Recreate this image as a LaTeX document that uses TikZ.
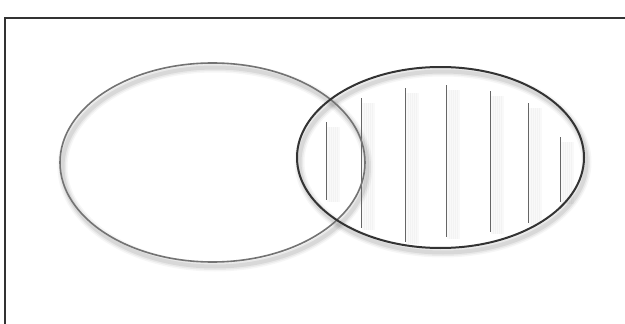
\documentclass[tikz,border=0pt]{standalone}
\usepackage{tikz}
\usetikzlibrary{shapes.geometric}

\tikzset{
  setring/.style={ellipse, draw, inner sep=0pt},
  hatch/.style={line width=1pt, black!60},
}

\begin{document}
\begin{tikzpicture}[x=1pt, y=-1pt]
  \useasboundingbox (0,0) rectangle (625,324);
  \fill[white] (0,0) rectangle (625,324);
  % frame, only left and top edges fall on the page
  \draw[line width=2.5pt, black!80] (5,400) -- (5,18) -- (700,18);
  % soft shadows of the two rings
  \foreach \w/\o in {10/0.035,7/0.05,4/0.07}{
    \draw[line width=\w pt, black, opacity=\o] (215,167) ellipse [x radius=152.5, y radius=99.5];
    \draw[line width=\w pt, black, opacity=\o] (443,162) ellipse [x radius=143.5, y radius=90.5];
  }
  % hatching of the right set, with shadows
  \foreach \x/\a/\b in {326/122/200, 361/98/228, 405/88/242, 446/85/237, 490/91/232, 528/103/223, 560/137/202}{
    \foreach \d in {2,4,...,12}
      \draw[line width=3pt, black, opacity=0.025] (\x+\d,\a+5) -- (\x+\d,\b+2);
    \draw[hatch] (\x,\a) -- (\x,\b);
  }
  \node[setring, black!55, line width=1.6pt, minimum width=305pt, minimum height=199pt] (setA) at (212.5,162.5) {};
  \node[setring, black!80, line width=2pt, minimum width=287pt, minimum height=181pt] (setB) at (440.5,157.5) {};
\end{tikzpicture}
\end{document}
